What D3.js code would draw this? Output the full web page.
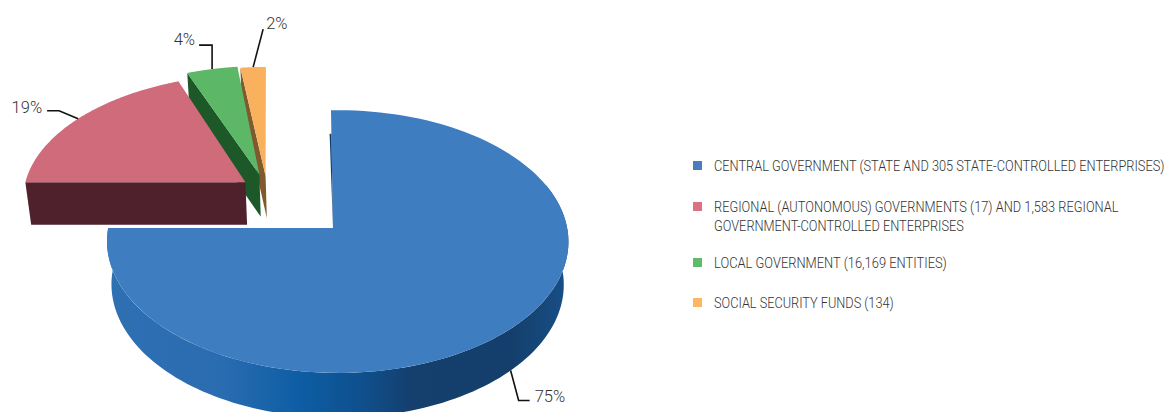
<!DOCTYPE html>
<html>
<head>
<meta charset="utf-8">
<script src="https://cdn.jsdelivr.net/npm/d3@7/dist/d3.min.js"></script>
<style>
html, body { margin: 0; padding: 0; background: #fff; }
svg { display: block; }
.legend text { font-family: Roboto, "Liberation Sans", sans-serif; font-weight: 300; font-size: 14.5px; fill: #333; }
.pct { font-family: Roboto, "Liberation Sans", sans-serif; font-weight: 300; font-size: 16.5px; fill: #333; }
</style>
</head>
<body>
<svg id="chart" width="1167" height="412"></svg>
<script>
// Share of public-sector entities, in percent
const categories = ["central", "regional", "local", "social"];
const shares = [75, 19, 4, 2];
const pctLabels = ["75%", "19%", "4%", "2%"];
const legendLines = [
  ["CENTRAL GOVERNMENT (STATE AND 305 STATE-CONTROLLED ENTERPRISES)"],
  ["REGIONAL (AUTONOMOUS) GOVERNMENTS (17) AND 1,583 REGIONAL", "GOVERNMENT-CONTROLLED ENTERPRISES"],
  ["LOCAL GOVERNMENT (16,169 ENTITIES)"],
  ["SOCIAL SECURITY FUNDS (134)"]
];
const legendSwatch = ["#4a7dc0", "#de7083", "#5fbb6c", "#fdb762"];
const legendRowY = [165.5, 206.5, 262.5, 302.5];
const legendLineWidths = [[451], [405, 250], [233], [180]];

const topColors = ["#3f7dc1", "#d06b7b", "#5cb867", "#f9b15e"];
const wallColors = ["#134a80", "#4f212c", "#1d5829", "#80592c"];

// Plane offsets of the pulled-out slices, in pie radii
const explodeU = [0.02, -0.39, -0.345, -0.33];
const explodeV = [0, -0.365, -0.43, -0.42];
const apexShiftU = [-0.02, 0, 0.015, 0.028];
const radiusU = [0.985, 0.98, 1, 1];
const radiusV = [1, 0.98, 1, 1];
const startNudge = [-0.03, 0, 0, 0];

// Leader elbows, relative to the rim point each one leaves from
const leaderAngle = [134.5, 304.5, 345.6, 356.4];
const leaderDrop = [1, 0, 0, 0];
const leaderSteps = [
  [[8, 30], [19, 30]],
  [[-19, -8], [-31, -8]],
  [[0, -24], [-13, -24]],
  [[10, -38]]
];
const labelOffset = [[24, 26], [-36, -12], [-17, -30], [13, -44]];

// Perspective view of the pie: plane coordinates u, v and drop z
const view = { cx: 333, cy: 228, rx: 233, ry: 130, tilt: 0.103, depth: 44, shrink: 0.02 };
function project(u, v, z) {
  const w = 1 - view.tilt * v + view.shrink * z;
  return [view.cx + view.rx * u / w, view.cy + (view.ry * v + view.depth * z) / w];
}

const svg = d3.select("#chart");
const defs = svg.append("defs");
const rimGradient = defs.append("linearGradient")
  .attr("id", "rimShade")
  .attr("gradientUnits", "userSpaceOnUse")
  .attr("x1", 108).attr("x2", 567).attr("y1", 0).attr("y2", 0);
[[0, "#2f70b3"], [0.25, "#2a6cb0"], [0.42, "#0d5da4"], [0.56, "#0f4f8c"], [0.66, "#153f6e"], [0.88, "#143f6c"], [1, "#184f86"]]
  .forEach(([o, c]) => rimGradient.append("stop").attr("offset", o).attr("stop-color", c));

const arcs = d3.pie().sort(null)(shares);
const degrees = d3.scaleLinear().domain([0, 360]).range([0, 2 * Math.PI]);
const line = d3.line();

function rimPoint(i, theta, z) {
  return project(explodeU[i] + radiusU[i] * Math.sin(theta), explodeV[i] - radiusV[i] * Math.cos(theta), z);
}
function apex(i, z) {
  return project(explodeU[i] + apexShiftU[i], explodeV[i], z);
}
function arcPoints(i, a0, a1, z) {
  return d3.range(0, 121).map(k => rimPoint(i, a0 + (a1 - a0) * k / 120, z));
}

// Far slices first so the nearer ones overlap them
const order = [3, 2, 1, 0];
const chart = svg.append("g");
order.forEach(i => {
  const a = arcs[i];
  const opening = a.startAngle + startNudge[i];
  const g = chart.append("g").attr("class", categories[i]);
  if (i === 0) {
    // curved outer wall, only where it faces the viewer
    const from = degrees(70), to = a.endAngle;
    const rim = arcPoints(i, from, to, 0).concat(arcPoints(i, from, to, 1).reverse());
    g.append("path").attr("d", line(rim) + "Z").attr("fill", "url(#rimShade)");
  } else {
    // side wall along the opening radius
    const wall = [apex(i, 0), rimPoint(i, opening, 0), rimPoint(i, opening, 1), apex(i, 1)];
    g.append("path").attr("d", line(wall) + "Z").attr("fill", wallColors[i]);
  }
  // top face
  const face = [apex(i, 0)].concat(arcPoints(i, opening, a.endAngle, 0));
  g.append("path").attr("d", line(face) + "Z").attr("fill", topColors[i]);
  if (i === 0) {
    // sliver of shadowed wall beside the opening edge
    const p = apex(i, 0), q = rimPoint(i, opening, 0);
    const along = d3.interpolateArray(p, q);
    const mid = along(0.5);
    const sliver = [p, along(0.8), [mid[0] - 1.8, mid[1]]];
    g.append("path").attr("d", line(sliver) + "Z").attr("fill", "#123f6b");
  }
});

// Leader lines and percentage labels
arcs.forEach((a, i) => {
  const start = rimPoint(i, degrees(leaderAngle[i]), leaderDrop[i]);
  const pts = [start].concat(leaderSteps[i].map(s => [start[0] + s[0], start[1] + s[1]]));
  svg.append("path").attr("d", line(pts)).attr("fill", "none")
    .attr("stroke", "#111").attr("stroke-width", 1.6);
  svg.append("text").attr("class", "pct")
    .attr("x", start[0] + labelOffset[i][0]).attr("y", start[1] + labelOffset[i][1])
    .attr("text-anchor", i === 1 || i === 2 ? "end" : "start")
    .attr("dy", "0.36em").text(pctLabels[i]);
});

// Legend: the text is set condensed by squeezing each line to its column width
const legend = svg.append("g").attr("class", "legend");
legendLines.forEach((lines, i) => {
  legend.append("rect").attr("x", 693).attr("y", legendRowY[i] - 4.5)
    .attr("width", 9).attr("height", 9).attr("fill", legendSwatch[i]);
  lines.forEach((t, j) => {
    const label = legend.append("text").attr("dy", "0.36em").text(t);
    const squeeze = legendLineWidths[i][j] / label.node().getComputedTextLength();
    label.attr("transform", `translate(714,${legendRowY[i] + j * 19}) scale(${squeeze},1)`);
  });
});
</script>
</body>
</html>
